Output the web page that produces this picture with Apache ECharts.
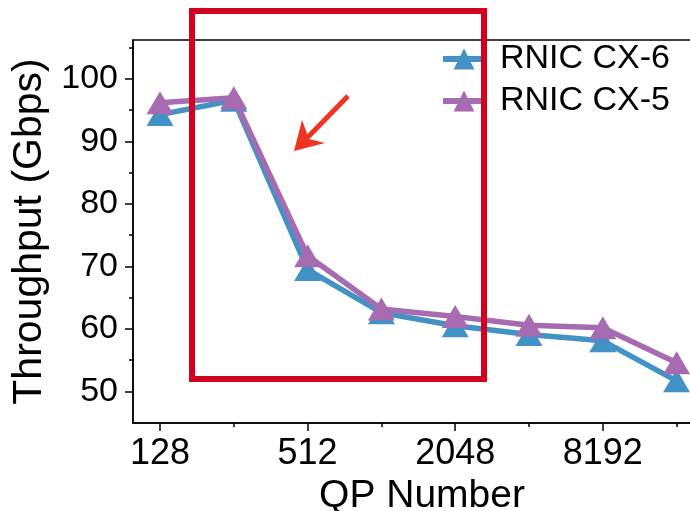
<!DOCTYPE html>
<html>
<head>
<meta charset="utf-8">
<script src="https://cdn.jsdelivr.net/npm/echarts@6/dist/echarts.min.js"></script>
<style>
  html, body { margin: 0; padding: 0; background: #ffffff; }
  #chart { width: 690px; height: 511px; }
</style>
</head>
<body>
<div id="chart"></div>
<script>
// QP counts on the x axis (powers of two) and measured throughput per NIC.
const qpNumbers = [128, 256, 512, 1024, 2048, 4096, 8192, 16384];
const labeledQPs = [128, 512, 2048, 8192];
const unlabeledQPs = [256, 1024, 4096, 16384];
const throughputCX6 = [94.3, 96.6, 69.5, 62.6, 60.5, 59.1, 58.1, 51.7];
const throughputCX5 = [96.2, 97.0, 71.7, 63.2, 62.0, 60.6, 60.2, 54.6];
const yMajorTicks = [50, 60, 70, 80, 90, 100];
const yMinorTicks = [55, 65, 75, 85, 95, 105];
const seriesNames = ['RNIC CX-6', 'RNIC CX-5'];

const FONT = '"Liberation Sans", Arial, Helvetica, sans-serif';
const BLUE = '#4292c6';
const PURPLE = '#a66bb1';
const BOX_RED = '#d3001f';
const ARROW_RED = '#ee3524';

// x is plotted on a log2 scale: each doubling of QPs is one unit.
const toExp = q => Math.log2(q);
const xMin = 6.634, xMax = 14.466;
const yMin = 44.95, yMax = 106.24;

const pairs = vals => qpNumbers.map((q, i) => [toExp(q), vals[i]]);

const chart = echarts.init(document.getElementById('chart'), null, { renderer: 'canvas' });

const lineSeries = (name, vals, color, z) => ({
  name: name,
  type: 'line',
  xAxisIndex: 0,
  yAxisIndex: 0,
  data: pairs(vals),
  symbol: 'triangle',
  symbolSize: [27, 23],
  showSymbol: true,
  z: z,
  lineStyle: { color: color, width: 5.5 },
  itemStyle: { color: color },
  emphasis: { disabled: true },
  animation: false
});

chart.setOption({
  animation: false,
  textStyle: { fontFamily: FONT },
  grid: {
    left: 133, top: 40, bottom: 88, right: -21,
    containLabel: false, outerBoundsMode: 'none',
    show: true, borderColor: '#000', borderWidth: 1.5, backgroundColor: 'transparent'
  },
  legend: {
    orient: 'vertical',
    left: 440, top: 42,
    itemWidth: 42, itemHeight: 26, itemGap: 8,
    padding: 0,
    data: seriesNames,
    lineStyle: { width: 6 },
    textStyle: { fontFamily: FONT, fontSize: 34, color: '#000', padding: [0, 0, 0, 10] }
  },
  xAxis: [
    {
      type: 'value', min: xMin, max: xMax, position: 'bottom',
      axisLine: { show: true, lineStyle: { color: '#000', width: 1.5 } },
      axisTick: { show: true, customValues: labeledQPs.map(toExp), length: 8, lineStyle: { color: '#000', width: 1.5 } },
      axisLabel: {
        customValues: labeledQPs.map(toExp),
        formatter: v => String(Math.round(Math.pow(2, v))),
        fontFamily: FONT, fontSize: 36, color: '#000', margin: 13
      },
      splitLine: { show: false },
      name: 'QP Number', nameLocation: 'middle', nameGap: 42,
      nameTextStyle: { fontFamily: FONT, fontSize: 39, color: '#000' }
    },
    {
      type: 'value', min: xMin, max: xMax, position: 'bottom',
      axisLine: { show: false },
      axisTick: { show: true, customValues: unlabeledQPs.map(toExp), length: 4, lineStyle: { color: '#000', width: 1.5 } },
      axisLabel: { show: false },
      splitLine: { show: false }
    }
  ],
  yAxis: [
    {
      type: 'value', min: yMin, max: yMax, position: 'left',
      axisLine: { show: true, lineStyle: { color: '#000', width: 1.5 } },
      axisTick: { show: true, customValues: yMajorTicks, length: 8, lineStyle: { color: '#000', width: 1.5 } },
      axisLabel: {
        customValues: yMajorTicks,
        fontFamily: FONT, fontSize: 34, color: '#000', margin: 15
      },
      splitLine: { show: false },
      name: 'Throughput (Gbps)', nameLocation: 'middle', nameGap: 81, nameRotate: 90,
      nameTextStyle: { fontFamily: FONT, fontSize: 41, color: '#000' }
    },
    {
      type: 'value', min: yMin, max: yMax, position: 'left',
      axisLine: { show: false },
      axisTick: { show: true, customValues: yMinorTicks, length: 4, lineStyle: { color: '#000', width: 1.5 } },
      axisLabel: { show: false },
      splitLine: { show: false }
    }
  ],
  series: [
    lineSeries(seriesNames[0], throughputCX6, BLUE, 3),
    lineSeries(seriesNames[1], throughputCX5, PURPLE, 4)
  ],
  graphic: [
    {
      // highlight box around the steep drop region
      type: 'rect', z: 100,
      shape: { x: 192, y: 11, width: 292, height: 368 },
      style: { fill: 'none', stroke: BOX_RED, lineWidth: 6 }
    },
    {
      type: 'line', z: 100,
      shape: { x1: 348, y1: 96, x2: 307, y2: 138 },
      style: { stroke: ARROW_RED, lineWidth: 5 }
    },
    {
      type: 'polygon', z: 100,
      shape: { points: [[294, 151], [302, 120], [309, 139], [325, 143]] },
      style: { fill: ARROW_RED, stroke: null }
    }
  ]
});
</script>
</body>
</html>
